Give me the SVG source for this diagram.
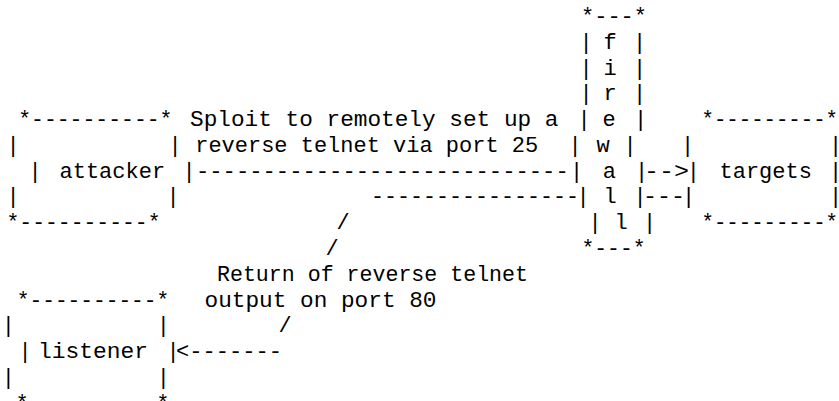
<svg xmlns="http://www.w3.org/2000/svg" width="839" height="401" viewBox="0 0 839 401">
<style>
text{font-family:"Liberation Mono","Courier New",monospace;font-size:22px;fill:#000}
.m{text-anchor:middle}
</style>
<rect width="839" height="401" fill="#fff"/>
<g id="firewall">
<text x="581" y="23" textLength="66" lengthAdjust="spacingAndGlyphs">*---*</text>
<text class="m" x="586" y="48.8">|</text><text class="m" x="610" y="48.8">f</text><text class="m" x="639.5" y="48.8">|</text>
<text class="m" x="586" y="74.6">|</text><text class="m" x="610" y="74.6">i</text><text class="m" x="639.5" y="74.6">|</text>
<text class="m" x="586" y="100.4">|</text><text class="m" x="610" y="100.4">r</text><text class="m" x="639.5" y="100.4">|</text>
<text class="m" x="584" y="126.2">|</text><text class="m" x="609" y="126.2">e</text><text class="m" x="640.5" y="126.2">|</text>
<text class="m" x="575" y="151.8">|</text><text class="m" x="603" y="151.8">w</text><text class="m" x="630" y="151.8">|</text>
<text class="m" x="576.5" y="177.6">|</text><text class="m" x="609.3" y="177.6">a</text><text class="m" x="641.7" y="177.6">|</text>
<text class="m" x="583" y="203.4">|</text><text class="m" x="610" y="203.4">l</text><text class="m" x="640" y="203.4">|</text>
<text class="m" x="595" y="229.2">|</text><text class="m" x="621" y="229.2">l</text><text class="m" x="649.5" y="229.2">|</text>
<text x="581.5" y="255" textLength="64" lengthAdjust="spacingAndGlyphs">*---*</text>
</g>
<g id="attacker">
<text x="18.2" y="126.2" textLength="154.3" lengthAdjust="spacingAndGlyphs">*----------*</text>
<text class="m" x="13" y="151.8">|</text><text class="m" x="175" y="151.8">|</text>
<text class="m" x="35" y="177.6">|</text>
<text x="59.5" y="177.6">attacker</text>
<text class="m" x="189" y="177.6">|</text>
<text class="m" x="13" y="203.4">|</text><text class="m" x="173" y="203.4">|</text>
<text x="6.5" y="229.2" textLength="154" lengthAdjust="spacingAndGlyphs">*----------*</text>
</g>
<g id="targets">
<text x="701.5" y="126.2" textLength="136.5" lengthAdjust="spacingAndGlyphs">*---------*</text>
<text class="m" x="687.7" y="151.8">|</text><text class="m" x="835.5" y="151.8">|</text>
<text class="m" x="693.3" y="177.6">|</text>
<text x="719.5" y="177.6">targets</text>
<text class="m" x="835.5" y="177.6">|</text>
<text class="m" x="688.5" y="203.4">|</text><text class="m" x="835.5" y="203.4">|</text>
<text x="701.5" y="229.2" textLength="136.5" lengthAdjust="spacingAndGlyphs">*---------*</text>
</g>
<g id="listener">
<text x="16.8" y="306.6" textLength="152.4" lengthAdjust="spacingAndGlyphs">*----------*</text>
<text class="m" x="8.3" y="332.4">|</text><text class="m" x="163.3" y="332.4">|</text>
<text class="m" x="25" y="358.2">|</text>
<text x="38" y="358.2" textLength="110" lengthAdjust="spacingAndGlyphs">listener</text>
<text class="m" x="173" y="358.2">|</text>
<text class="m" x="8.3" y="384">|</text><text class="m" x="163.3" y="384">|</text>
<text x="15.8" y="409.8" textLength="153.4" lengthAdjust="spacingAndGlyphs">*----------*</text>
</g>
<g id="connectors">
<text x="196" y="177.6" textLength="372.7" lengthAdjust="spacingAndGlyphs">----------------------------</text>
<text x="644" y="177.6" textLength="45" lengthAdjust="spacingAndGlyphs">--&gt;</text>
<text x="371" y="203.4" textLength="208" lengthAdjust="spacingAndGlyphs">----------------</text>
<text x="643" y="203.4" textLength="42" lengthAdjust="spacingAndGlyphs">---</text>
<text class="m" x="343" y="229.2">/</text>
<text class="m" x="332" y="255">/</text>
<text class="m" x="285" y="332.4">/</text>
<text x="176" y="358.2" textLength="106" lengthAdjust="spacingAndGlyphs">&lt;-------</text>
</g>
<g id="labels">
<text x="190" y="126.2" textLength="368.5" lengthAdjust="spacingAndGlyphs">Sploit to remotely set up a</text>
<text x="195.2" y="151.8" textLength="343" lengthAdjust="spacingAndGlyphs">reverse telnet via port 25</text>
<text x="217" y="280.8" textLength="311" lengthAdjust="spacingAndGlyphs">Return of reverse telnet</text>
<text x="204.5" y="306.6" textLength="232" lengthAdjust="spacingAndGlyphs">output on port 80</text>
</g>
</svg>
